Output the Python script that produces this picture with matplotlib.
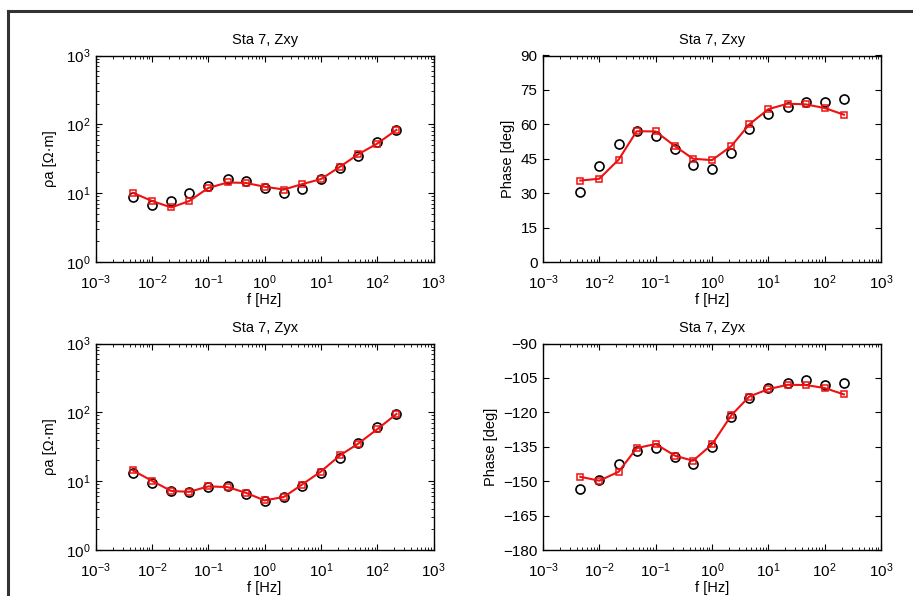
import matplotlib
matplotlib.use("Agg")
import matplotlib.pyplot as plt
import numpy as np
from matplotlib.lines import Line2D
from matplotlib.ticker import LogLocator, FixedLocator, NullFormatter

plt.rcParams['font.family'] = ['Liberation Sans', 'DejaVu Sans']
plt.rcParams['mathtext.fontset'] = 'custom'
plt.rcParams['mathtext.rm'] = 'Liberation Sans'
plt.rcParams['mathtext.it'] = 'Liberation Sans'
plt.rcParams['font.size'] = 10

freq = [0.0046, 0.01, 0.022, 0.046, 0.1, 0.22, 0.46, 1.0, 2.2, 4.6, 10, 22, 46, 100, 220]

rho_xy_obs = [8.7, 6.8, 7.6, 10.0, 12.9, 16.0, 14.9, 11.7, 10.0, 11.4, 16.0, 23.0, 35.0, 56.0, 83.0]
rho_xy_mod = [10.1, 7.7, 6.2, 7.7, 11.9, 14.3, 14.1, 12.4, 11.3, 13.5, 16.0, 24.3, 36.7, 52.5, 83.0]
phs_xy_obs = [30.5, 41.8, 51.4, 57.2, 54.8, 49.1, 42.4, 40.4, 47.5, 58.0, 64.7, 67.4, 69.7, 69.6, 71.2]
phs_xy_mod = [35.5, 36.3, 44.6, 57.0, 56.9, 50.5, 45.0, 44.4, 50.5, 60.0, 66.6, 69.0, 68.7, 67.1, 64.2]

rho_yx_obs = [13.2, 9.25, 7.2, 6.9, 8.3, 8.5, 6.6, 5.2, 5.9, 8.6, 13.2, 21.5, 36.3, 61.0, 94.6]
rho_yx_mod = [14.3, 10.1, 7.2, 7.0, 8.4, 8.2, 6.8, 5.25, 5.9, 8.9, 13.8, 23.8, 35.1, 56.8, 94.6]
phs_yx_obs = [-153.4, -149.4, -142.7, -137.0, -135.4, -139.3, -142.4, -135.0, -121.9, -113.9, -109.3, -107.4, -105.9, -108.3, -107.0]
phs_yx_mod = [-148.1, -149.8, -145.9, -135.6, -133.8, -138.9, -141.1, -134.0, -121.3, -113.1, -109.9, -108.0, -108.1, -109.4, -112.2]

titles = ["Sta 7, Zxy", "Sta 7, Zxy", "Sta 7, Zyx", "Sta 7, Zyx"]
xticks = [1e-3, 1e-2, 1e-1, 1e0, 1e1, 1e2, 1e3]
phase_ticks_xy = [0, 15, 30, 45, 60, 75, 90]
phase_ticks_yx = [-180, -165, -150, -135, -120, -105, -90]

W, H = 913, 596
fig = plt.figure(figsize=(W / 100, H / 100), dpi=100)

def rect(x0, y0, x1, y1):
    return [x0 / W, 1 - y1 / H, (x1 - x0) / W, (y1 - y0) / H]

axes = [
    fig.add_axes(rect(95.7, 55.5, 433.5, 262)),
    fig.add_axes(rect(543, 55.5, 881, 262)),
    fig.add_axes(rect(95.7, 343.5, 433.5, 550)),
    fig.add_axes(rect(543, 343.5, 881, 550)),
]

data = [
    (rho_xy_obs, rho_xy_mod, 'rho', None),
    (phs_xy_obs, phs_xy_mod, 'phase', phase_ticks_xy),
    (rho_yx_obs, rho_yx_mod, 'rho', None),
    (phs_yx_obs, phs_yx_mod, 'phase', phase_ticks_yx),
]

red = '#ee1111'
for ax, (obs, mod, kind, pt), title in zip(axes, data, titles):
    ax.plot(freq, obs, linestyle='none', marker='o', markersize=6.5,
            markerfacecolor='none', markeredgecolor='black', markeredgewidth=1.2, zorder=2)
    ax.plot(freq, mod, color=red, linewidth=1.5, marker='s', markersize=5,
            markerfacecolor='none', markeredgecolor=red, markeredgewidth=1.1, zorder=3)
    ax.set_xscale('log')
    ax.set_xlim(1e-3, 1e3)
    ax.xaxis.set_major_locator(FixedLocator(xticks))
    ax.xaxis.set_minor_locator(LogLocator(base=10, subs=np.arange(2, 10), numticks=20))
    ax.xaxis.set_minor_formatter(NullFormatter())
    if kind == 'rho':
        ax.set_yscale('log')
        ax.set_ylim(1, 1000)
        ax.yaxis.set_major_locator(FixedLocator([1, 10, 100, 1000]))
        ax.yaxis.set_minor_locator(LogLocator(base=10, subs=np.arange(2, 10), numticks=20))
        ax.yaxis.set_minor_formatter(NullFormatter())
        ax.set_ylabel('ρa [Ω·m]', fontsize=10.5, labelpad=6)
    else:
        ax.set_ylim(pt[0], pt[-1])
        ax.set_yticks(pt)
        ax.set_ylabel('Phase [deg]', fontsize=10.5, labelpad=4)
    ax.set_title(title, fontsize=10.5, pad=8)
    ax.set_xlabel('f [Hz]', fontsize=10.5, labelpad=1)
    ax.tick_params(which='both', direction='in', top=True, right=True, labelsize=11)
    ax.tick_params(axis='x', which='major', pad=8)
    ax.tick_params(axis='y', which='major', pad=4)
    ax.tick_params(which='major', length=4, width=0.8)
    ax.tick_params(which='minor', length=2, width=0.6)
    for s in ax.spines.values():
        s.set_linewidth(1.0)

# outer frame lines (top and left)
fig.add_artist(Line2D([8 / W, 1.0], [1 - 11 / H, 1 - 11 / H], color='#333333', linewidth=2.2,
                      transform=fig.transFigure))
fig.add_artist(Line2D([8 / W, 8 / W], [1 - 11 / H, 0.0], color='#333333', linewidth=2.2,
                      transform=fig.transFigure))

fig.savefig('out.png', dpi=100)
